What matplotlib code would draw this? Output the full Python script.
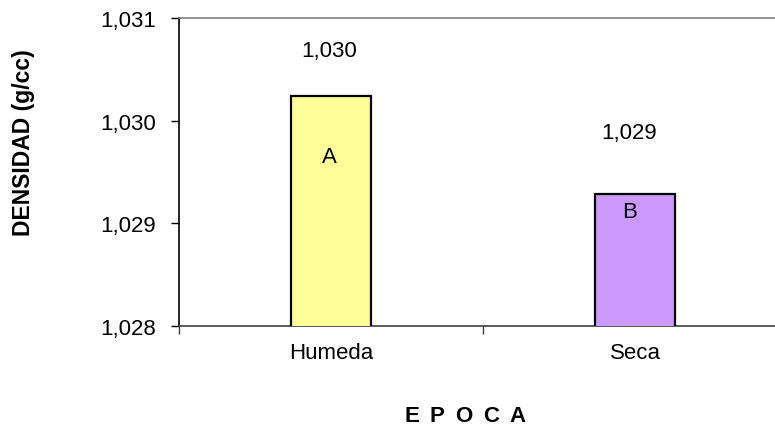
import matplotlib
matplotlib.use("Agg")
import matplotlib.pyplot as plt
from matplotlib.ticker import FixedLocator

plt.rcParams['font.family'] = ['Liberation Sans', 'DejaVu Sans']

categories = ["Humeda", "Seca"]
densidad = [1.03024, 1.02928]
letras = ["A", "B"]
colores = ["#FFFF99", "#CC99FF"]
y_ticks = [1.028, 1.029, 1.030, 1.031]
x_title = "EPOCA"
y_title = "DENSIDAD (g/cc)"

W, H = 775, 427
FS = 16
fig = plt.figure(figsize=(W / 100, H / 100), dpi=100)
ax = fig.add_axes([179 / W, 1 - 326.7 / H, (787.6 - 179) / W, (326.7 - 19) / H])

x = list(range(len(categories)))
ax.bar(x, densidad, width=0.263, color=colores, edgecolor="black",
       linewidth=1.6, zorder=3)
ax.set_xlim(-0.5, len(categories) - 0.5)
ax.set_ylim(y_ticks[0], y_ticks[-1])

fmt = lambda v: f"{v:.3f}".replace(".", ",")
ax.set_yticks(y_ticks)
ax.set_yticklabels([fmt(v) for v in y_ticks], fontsize=FS)
ax.tick_params(axis="y", direction="out", length=6, width=1, pad=10.5, colors="black")

ax.xaxis.set_major_locator(FixedLocator([i - 0.5 for i in range(len(categories) + 1)]))
ax.xaxis.set_minor_locator(FixedLocator(x))
ax.set_xticklabels([], minor=False)
ax.set_xticklabels(categories, minor=True, fontsize=FS)
ax.tick_params(axis="x", which="major", direction="out", length=6, width=1, color="#404040")
ax.tick_params(axis="x", which="minor", length=0, pad=12)

for side in ["top", "right"]:
    ax.spines[side].set_color("#808080")
    ax.spines[side].set_linewidth(1.2)
ax.spines["left"].set_color("black")
ax.spines["bottom"].set_color("#404040")
ax.spines["left"].set_linewidth(1.2)
ax.spines["bottom"].set_linewidth(1.2)

# value labels and significance letters (offsets in pixels from bar top)
val_offsets = [45, 62]
letter_offsets = [-61, -17]
x_shift = [-2, -6]
for i, v in enumerate(densidad):
    ax.annotate(fmt(v), (x[i], v), xytext=(x_shift[i], val_offsets[i]),
                textcoords="offset pixels", ha="center", va="center", fontsize=FS)
    ax.annotate(letras[i], (x[i], v), xytext=(x_shift[i], letter_offsets[i]),
                textcoords="offset pixels", ha="center", va="center", fontsize=FS)

fig.text(24 / W, 1 - 143 / H, y_title, rotation=90, ha="center",
         va="center", fontsize=16.5, fontweight="bold")

# letter-spaced x title
renderer = fig.canvas.get_renderer()
gap = 10.5
texts = [fig.text(0, 1 - 417 / H, ch, ha="left", va="center", fontsize=FS,
                  fontweight="bold") for ch in x_title]
widths = [t.get_window_extent(renderer).width for t in texts]
total = sum(widths) + gap * (len(texts) - 1)
cur = 465 - total / 2
for t, w in zip(texts, widths):
    t.set_x(cur / W)
    cur += w + gap

fig.savefig("out.png", dpi=100)
